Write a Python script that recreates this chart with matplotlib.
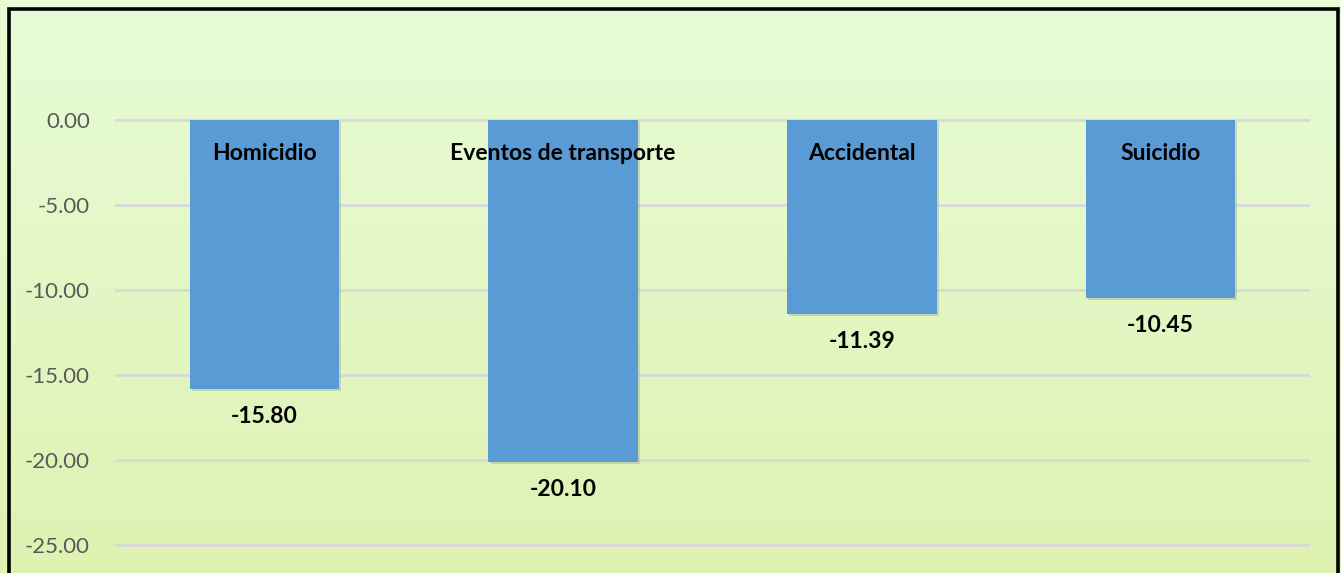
import matplotlib
matplotlib.use("Agg")
import matplotlib.pyplot as plt
import numpy as np
from matplotlib.patches import Rectangle
import matplotlib.patheffects as pe
from matplotlib.colors import LinearSegmentedColormap

categories = ["Homicidio", "Eventos de transporte", "Accidental", "Suicidio"]
values = [-15.80, -20.10, -11.39, -10.45]
yticks = [0, -5, -10, -15, -20, -25]

W, H = 1341, 573
fig = plt.figure(figsize=(W / 100, H / 100), dpi=100)

# background gradient
bg = fig.add_axes([0, 0, 1, 1], zorder=0)
grad = np.linspace(0, 1, 256).reshape(-1, 1)
cmap = LinearSegmentedColormap.from_list("g", ["#E8FCD8", "#DEF2B2"])
bg.imshow(grad, aspect="auto", cmap=cmap, extent=[0, 1, 0, 1], origin="upper")
bg.set_axis_off()

# border
fig.patches.append(Rectangle((8.5 / W, -0.05), (1338 - 8.5) / W, 1.05 - 9.5 / H,
                             transform=fig.transFigure, fill=False, edgecolor="black",
                             linewidth=2.6, zorder=10, clip_on=False))

# axes geometry: y=0 at pixel 120, 17 px per unit
px_per = 17.0
top_px, bot_px = 35, 573
y_top = (120 - top_px) / px_per
y_bot = -(bot_px - 120) / px_per
left, right = 115, 1310
ax = fig.add_axes([left / W, 1 - bot_px / H, (right - left) / W, (bot_px - top_px) / H], zorder=1)
ax.patch.set_alpha(0)
ax.set_xlim(-0.5, len(categories) - 0.5)
ax.set_ylim(y_bot, y_top)

x = np.arange(len(categories))
bars = ax.bar(x, values, width=0.5, color="#5B9BD5", zorder=3)
for b in bars:
    b.set_path_effects([pe.SimplePatchShadow(offset=(1.5, -1.5), shadow_rgbFace="#6f7f60", alpha=0.25),
                        pe.Normal()])

for xi, cat, v in zip(x, categories, values):
    ax.text(xi, -1.95, cat, ha="center", va="center", fontsize=16.5, fontweight="bold",
            family="Lato", color="black", zorder=5)
    ax.text(xi, v - 1.65, f"{v:.2f}", ha="center", va="center", fontsize=16.5, fontweight="bold",
            family="Lato", color="black", zorder=5)

ax.set_yticks(yticks)
ax.set_yticklabels([f"{t:.2f}" for t in yticks], family="Lato", fontsize=16, color="#595959")
ax.tick_params(axis="y", length=0, pad=18)
ax.set_xticks([])
for s in ax.spines.values():
    s.set_visible(False)
ax.grid(axis="y", color="#D9D9D9", linewidth=2, zorder=0)
ax.set_axisbelow(True)

fig.savefig("out.png", dpi=100)
